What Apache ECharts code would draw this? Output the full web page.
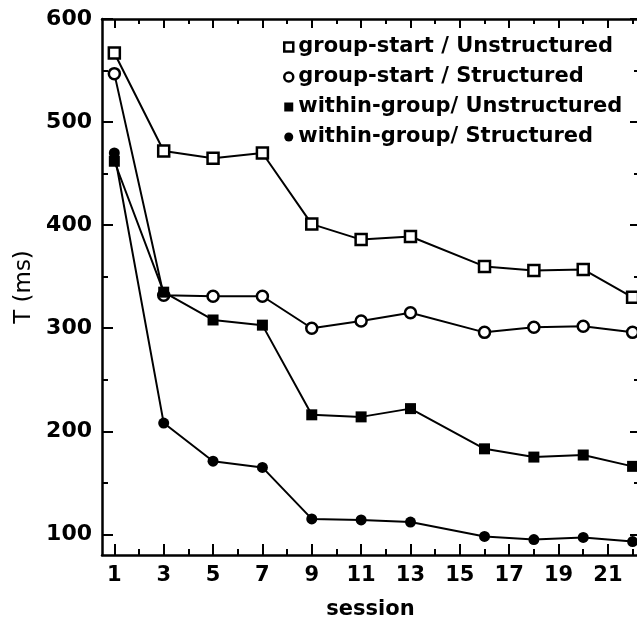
<!DOCTYPE html>
<html>
<head>
<meta charset="utf-8">
<script src="https://cdn.jsdelivr.net/npm/echarts@6/dist/echarts.min.js"></script>
<style>
  html, body { margin: 0; padding: 0; background: #fff; }
  #chart { width: 637px; height: 619px; }
</style>
</head>
<body>
<div id="chart"></div>
<script>
// sessions where each condition was measured
const sessions = [1, 3, 5, 7, 9, 11, 13, 16, 18, 20, 22]
const xTickLabels = [1, 3, 5, 7, 9, 11, 13, 15, 17, 19, 21]
const xMinorTicks = [2, 4, 6, 8, 10, 12, 14, 16, 18, 20, 22]
const yTickLabels = [100, 200, 300, 400, 500, 600]
const yMinorTicks = [150, 250, 350, 450, 550]

const seriesNames = [
    'group-start / Unstructured',
    'group-start / Structured',
    'within-group/ Unstructured',
    'within-group/ Structured',
]
const gsUnstructured = [567, 472, 465, 470, 401, 386, 389, 360, 356, 357, 330]
const gsStructured = [547, 332, 331, 331, 300, 307, 315, 296, 301, 302, 296]
const wgUnstructured = [462, 335, 308, 303, 216, 214, 222, 183, 175, 177, 166]
const wgStructured = [470, 208, 171, 165, 115, 114, 112, 98, 95, 97, 93]

const FONT = 'DejaVu Sans'
const INK = '#000'

const chart = echarts.init(document.getElementById('chart'), null, { renderer: 'canvas' })

const pairs = (ys) => sessions.map((s, i) => [s, ys[i]])

const openStyle = { color: '#fff', borderColor: INK, borderWidth: 2.5 }
const filledStyle = { color: INK, borderColor: INK, borderWidth: 0 }

const markers = [
    { symbol: 'rect', size: 11, style: openStyle },
    { symbol: 'circle', size: 11, style: openStyle },
    { symbol: 'rect', size: 11, style: filledStyle },
    { symbol: 'circle', size: 11, style: filledStyle },
]
const values = [gsUnstructured, gsStructured, wgUnstructured, wgStructured]

const xBase = { type: 'value', min: 0.5, max: 22.26, gridIndex: 0, splitLine: { show: false } }
const yBase = { type: 'value', min: 80, max: 600, gridIndex: 0, splitLine: { show: false } }
const line = { show: true, lineStyle: { color: INK, width: 2.5 } }
const noLine = { show: false }
const tick = (vals, len) => ({ show: true, inside: true, length: len, customValues: vals, lineStyle: { color: INK, width: 2 } })
const noLabel = { show: false }
const tickFont = { fontFamily: FONT, fontSize: 21, fontWeight: 'bold', color: INK }

const option = {
    animation: false,
    backgroundColor: '#fff',
    // the plot runs slightly past the right edge of the picture
    grid: { left: 102, right: -2, top: 19, bottom: 64, outerBoundsMode: 'none' },
    legend: {
        orient: 'vertical',
        left: 278,
        top: 31,
        itemWidth: 9,
        itemHeight: 9,
        itemGap: 8,
        textStyle: { fontFamily: FONT, fontSize: 21, fontWeight: 'bold', color: INK, lineHeight: 22 },
        data: seriesNames.map((n, i) => ({
            name: n,
            icon: markers[i].symbol,
            itemStyle: markers[i].style,
        })),
    },
    xAxis: [
        {
            ...xBase, position: 'bottom', axisLine: line,
            axisTick: tick(xTickLabels, 11),
            axisLabel: { customValues: xTickLabels, ...tickFont, margin: 10 },
            name: 'session', nameLocation: 'middle', nameGap: 44,
            nameTextStyle: { fontFamily: FONT, fontSize: 21, fontWeight: 'bold', color: INK },
        },
        { ...xBase, position: 'bottom', axisLine: noLine, axisTick: tick(xMinorTicks, 6), axisLabel: noLabel },
        { ...xBase, position: 'top', axisLine: line, axisTick: tick(xTickLabels, 9), axisLabel: noLabel },
        { ...xBase, position: 'top', axisLine: noLine, axisTick: tick(xMinorTicks, 5), axisLabel: noLabel },
    ],
    yAxis: [
        {
            ...yBase, position: 'left', axisLine: line,
            axisTick: tick(yTickLabels, 11),
            axisLabel: { customValues: yTickLabels, ...tickFont, fontSize: 22, margin: 10 },
            name: 'T (ms)', nameLocation: 'middle', nameGap: 66, nameRotate: 90,
            nameTextStyle: { fontFamily: FONT, fontSize: 23, color: INK },
        },
        { ...yBase, position: 'left', axisLine: noLine, axisTick: tick(yMinorTicks, 6), axisLabel: noLabel },
        { ...yBase, position: 'right', axisLine: line, axisTick: tick(yTickLabels, 9), axisLabel: noLabel },
        { ...yBase, position: 'right', axisLine: noLine, axisTick: tick(yMinorTicks, 5), axisLabel: noLabel },
    ],
    series: seriesNames.map((n, i) => ({
        name: n,
        type: 'line',
        xAxisIndex: 0,
        yAxisIndex: 0,
        data: pairs(values[i]),
        symbol: markers[i].symbol,
        symbolSize: markers[i].size,
        showAllSymbol: true,
        lineStyle: { color: INK, width: 2 },
        itemStyle: markers[i].style,
        z: 2 + i,
    })),
}

chart.setOption(option)
</script>
</body>
</html>
